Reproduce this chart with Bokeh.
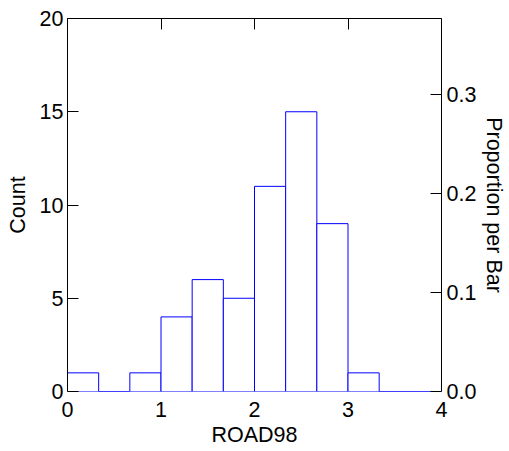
from bokeh.plotting import figure
from bokeh.models import LinearAxis, Range1d, FixedTicker, ColumnDataSource, NumeralTickFormatter
from bokeh.embed import file_html
from bokeh.resources import INLINE

# Data: histogram of ROAD98, bins of width 1/3 from 0 to 4
bin_left = [0, 1/3, 2/3, 1, 4/3, 5/3, 2, 7/3, 8/3, 3, 10/3, 11/3]
bin_right = [1/3, 2/3, 1, 4/3, 5/3, 2, 7/3, 8/3, 3, 10/3, 11/3, 4]
counts = [1, 0, 1, 4, 6, 5, 11, 15, 9, 1, 0, 0]
x_ticks = [0, 1, 2, 3, 4]
count_ticks = [0, 5, 10, 15, 20]
prop_ticks = [0.0, 0.1, 0.2, 0.3]

total = sum(counts)
FONT = "Liberation Sans"
FS = "21.5px"

src = ColumnDataSource(dict(left=bin_left, right=bin_right, top=counts, bottom=[0] * len(counts)))

p = figure(width=509, height=451, output_backend="svg", toolbar_location=None,
           x_range=Range1d(0, 4), y_range=Range1d(0, 20),
           x_axis_location=None, y_axis_location=None,
           min_border_left=67, min_border_right=67, min_border_top=18, min_border_bottom=60)
p.background_fill_color = "white"
p.border_fill_color = "white"
p.outline_line_color = None
p.xgrid.visible = False
p.ygrid.visible = False
p.extra_y_ranges = {"prop": Range1d(0, 20 / total)}

p.quad(left="left", right="right", top="top", bottom="bottom", source=src,
       fill_color="white", line_color="#0000FF", line_width=1)


def style(ax):
    ax.axis_line_color = "black"
    ax.axis_line_width = 1
    ax.major_tick_line_color = "black"
    ax.major_tick_in = 11
    ax.major_tick_out = 0
    ax.minor_tick_line_color = None
    ax.major_label_text_font = FONT
    ax.major_label_text_font_size = FS
    ax.major_label_text_color = "black"
    ax.axis_label_text_font = FONT
    ax.axis_label_text_font_size = FS
    ax.axis_label_text_font_style = "normal"
    ax.axis_label_text_color = "black"


bottom = LinearAxis(ticker=FixedTicker(ticks=x_ticks), axis_label="ROAD98")
style(bottom)
bottom.axis_line_color = None
bottom.major_tick_in = 0
bottom.major_label_standoff = 10
bottom.axis_label_standoff = 3
p.add_layout(bottom, "below")

top = LinearAxis(ticker=FixedTicker(ticks=x_ticks))
style(top)
top.major_label_text_color = None
top.major_label_text_font_size = "1px"
top.major_label_standoff = 0
p.add_layout(top, "above")

left = LinearAxis(ticker=FixedTicker(ticks=count_ticks), axis_label="Count")
style(left)
left.major_label_standoff = 4
left.axis_label_standoff = 7
p.add_layout(left, "left")

right = LinearAxis(y_range_name="prop", ticker=FixedTicker(ticks=prop_ticks),
                   axis_label="Proportion per Bar",
                   formatter=NumeralTickFormatter(format="0.0"))
style(right)
right.major_label_standoff = 5
right.axis_label_standoff = 3
p.add_layout(right, "right")

open("out.html", "w").write(file_html(p, INLINE))
